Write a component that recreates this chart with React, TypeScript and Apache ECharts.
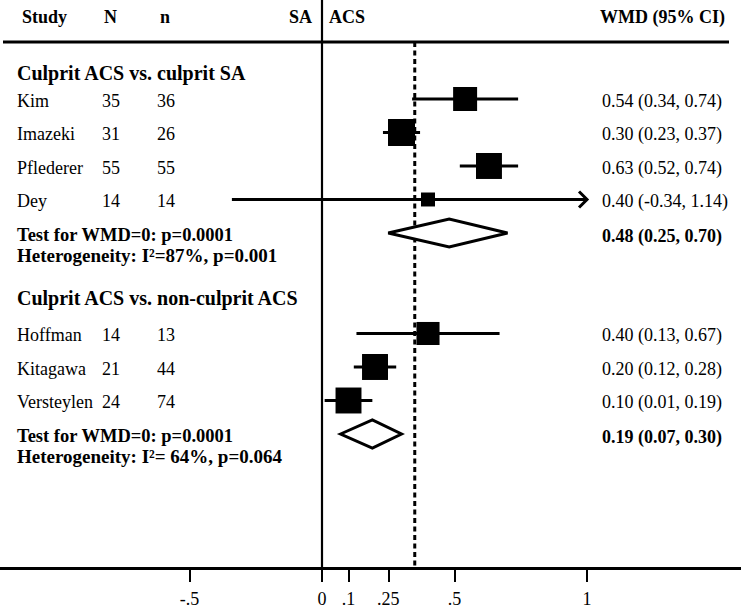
import React, { useEffect, useRef } from "react";
import * as echarts from "echarts";

// ---- data ----
const studyNames = ["Kim", "Imazeki", "Pflederer", "Dey", "Hoffman", "Kitagawa", "Versteylen"];
const studyN = [35, 31, 55, 14, 14, 21, 24];
const studySmallN = [36, 26, 55, 14, 13, 44, 74];
const studyEst = [0.54, 0.3, 0.63, 0.4, 0.4, 0.2, 0.1];
const studyLo = [0.34, 0.23, 0.52, -0.34, 0.13, 0.12, 0.01];
const studyHi = [0.74, 0.37, 0.74, 1.14, 0.67, 0.28, 0.19];
const studyWeight = [26.5, 33.5, 31, 9, 24.5, 31, 31];
const studyRow = [0, 1, 2, 3, 7, 8, 9];

const groupTitles = ["Culprit ACS vs. culprit SA", "Culprit ACS vs. non-culprit ACS"];
const groupTitleRow = [-0.81, 5.91];
const pooledEst = [0.48, 0.19];
const pooledLo = [0.25, 0.07];
const pooledHi = [0.7, 0.3];
const pooledRow = [4, 10];
const testTexts = ["Test for WMD=0: p=0.0001", "Test for WMD=0: p=0.0001"];
const hetTexts = ["Heterogeneity: I\u00B2=87%, p=0.001", "Heterogeneity: I\u00B2= 64%, p=0.064"];
const overallEst = 0.35;
const xTicks = [-0.5, 0, 0.1, 0.25, 0.5, 1];
const headerTexts = ["Study", "N", "n", "SA", "ACS", "WMD (95% CI)"];

const FONT = "'Liberation Serif', 'Times New Roman', serif";
const FS = 18;
const ROW_MIN = -2.955;
const ROW_MAX = 14;
const HEADER_ROW = -1.7;
const CLIP_MAX = 1;

const fmt = (v: number) => v.toFixed(2);
const ciText = (e: number, l: number, h: number) => `${fmt(e)} (${fmt(l)}, ${fmt(h)})`;

export default function App() {
  const ref = useRef<HTMLDivElement>(null);
  useEffect(() => {
    if (!ref.current) return;
    const chart = echarts.init(ref.current, undefined, { renderer: "svg" });

    const studyData = studyNames.map((_, i) => [studyEst[i], studyLo[i], studyHi[i], studyRow[i], studyWeight[i], i]);
    const pooledData = pooledEst.map((_, i) => [pooledEst[i], pooledLo[i], pooledHi[i], pooledRow[i], i]);
    const titleData = groupTitles.map((_, i) => [0, groupTitleRow[i], i]);

    const txt = (x: number, y: number, text: string, bold: boolean, align: string = "left", size: number = FS) => ({
      type: "text",
      x,
      y,
      style: {
        text,
        fontFamily: FONT,
        fontSize: size,
        fontWeight: bold ? "bold" : "normal",
        fill: "#000",
        align,
        verticalAlign: "middle",
      },
    });

    const option: any = {
      animation: false,
      backgroundColor: "#fff",
      grid: { left: 0, right: 0, top: 0, bottom: 41 },
      xAxis: {
        type: "value",
        min: -1.215,
        max: 1.581,
        splitLine: { show: false },
        axisLine: { onZero: false, lineStyle: { color: "#000", width: 2.8 } },
        axisTick: { customValues: xTicks, length: 14, lineStyle: { color: "#000", width: 2 } },
        axisLabel: {
          customValues: xTicks,
          color: "#000",
          fontFamily: FONT,
          fontSize: FS,
          margin: 22,
          formatter: (v: number) => (v === 0 || v === 1 ? String(v) : String(v).replace("0.", ".")),
        },
      },
      yAxis: { type: "value", inverse: true, min: ROW_MIN, max: ROW_MAX, show: false },
      graphic: [
        {
          type: "line",
          shape: { x1: 3, y1: 42, x2: 729, y2: 42 },
          style: { stroke: "#000", lineWidth: 2.8 },
        },
        txt(22, 17, headerTexts[0], true),
        txt(104, 17, headerTexts[1], true),
        txt(160, 17, headerTexts[2], true),
        txt(312, 17, headerTexts[3], true, "right"),
        txt(329, 17, headerTexts[4], true),
        txt(600, 17, headerTexts[5], true),
      ],
      series: [
        {
          type: "custom",
          name: "refs",
          data: [[0, 0], [overallEst, 1]],
          renderItem: (params: any, api: any) => {
            const v = api.value(0);
            const kind = api.value(1);
            const top = api.coord([v, kind === 0 ? ROW_MIN : HEADER_ROW]);
            const bot = api.coord([v, ROW_MAX]);
            return {
              type: "line",
              shape: { x1: top[0], y1: top[1], x2: bot[0], y2: bot[1] },
              style: {
                stroke: "#000",
                lineWidth: kind === 0 ? 2.2 : 3,
                lineDash: kind === 0 ? null : [5, 3.5],
              },
            };
          },
        },
        {
          type: "custom",
          name: "titles",
          data: titleData,
          renderItem: (params: any, api: any) => {
            const i = api.value(2);
            const p = api.coord([0, api.value(1)]);
            return txt(17, p[1] + 1, groupTitles[i], true, "left", 20);
          },
        },
        {
          type: "custom",
          name: "studies",
          data: studyData,
          renderItem: (params: any, api: any) => {
            const est = api.value(0);
            const lo = api.value(1);
            const hi = api.value(2);
            const row = api.value(3);
            const w = api.value(4);
            const i = api.value(5);
            const pe = api.coord([est, row]);
            const pl = api.coord([lo, row]);
            const ph = api.coord([Math.min(hi, CLIP_MAX), row]);
            const size = 4.66 * Math.sqrt(w);
            const y = pe[1];
            const children: any[] = [
              {
                type: "line",
                shape: { x1: pl[0], y1: y, x2: ph[0], y2: y },
                style: { stroke: "#000", lineWidth: 3 },
              },
              {
                type: "rect",
                shape: { x: pe[0] - size / 2, y: y - size / 2, width: size, height: size },
                style: { fill: "#000" },
              },
              txt(17, y + 2, studyNames[i], false),
              txt(102, y + 2, String(studyN[i]), false),
              txt(157, y + 2, String(studySmallN[i]), false),
              txt(602, y + 2, ciText(est, lo, hi), false),
            ];
            if (hi > CLIP_MAX) {
              children.push({
                type: "polyline",
                shape: { points: [[ph[0] - 8, y - 8], [ph[0], y], [ph[0] - 8, y + 8]] },
                style: { stroke: "#000", lineWidth: 3, fill: null },
              });
            }
            return { type: "group", children };
          },
        },
        {
          type: "custom",
          name: "pooled",
          data: pooledData,
          renderItem: (params: any, api: any) => {
            const est = api.value(0);
            const lo = api.value(1);
            const hi = api.value(2);
            const row = api.value(3);
            const i = api.value(4);
            const pe = api.coord([est, row]);
            const pl = api.coord([lo, row]);
            const ph = api.coord([hi, row]);
            const y = pe[1];
            const h = 14;
            return {
              type: "group",
              children: [
                {
                  type: "polygon",
                  shape: { points: [[pl[0], y], [pe[0], y - h], [ph[0], y], [pe[0], y + h]] },
                  style: { fill: "#fff", stroke: "#000", lineWidth: 3 },
                },
                txt(17, y + 2, testTexts[i], true, "left", 18.5),
                txt(17, y + 23, hetTexts[i], true, "left", 19),
                txt(602, y + 3, ciText(est, lo, hi), true),
              ],
            };
          },
        },
      ],
    };
    chart.setOption(option);
    return () => chart.dispose();
  }, []);
  return (
    <div
      ref={ref}
      style={{ position: "absolute", left: 0, top: 0, width: 741, height: 609, background: "#fff" }}
    />
  );
}
